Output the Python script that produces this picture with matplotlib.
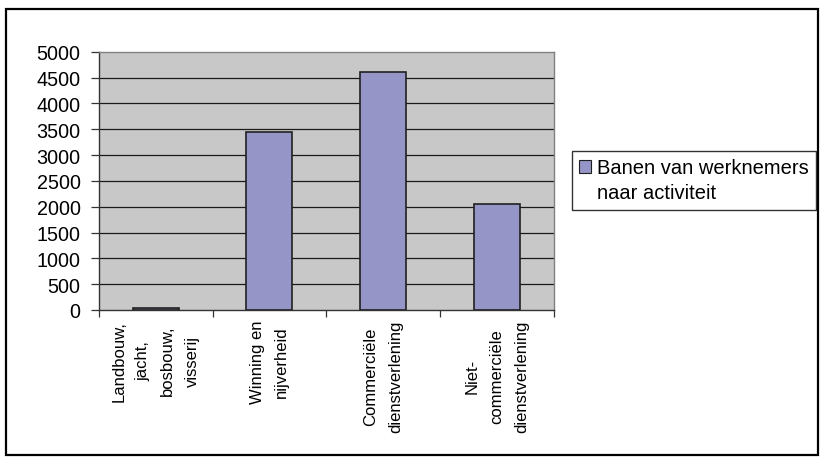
import matplotlib
matplotlib.use("Agg")
import matplotlib.pyplot as plt
from matplotlib.patches import Rectangle, Patch
from matplotlib.legend_handler import HandlerPatch

categories = ["Landbouw,\njacht,\nbosbouw,\nvisserij",
              "Winning en\nnijverheid",
              "Commerciële\ndienstverlening",
              "Niet-\ncommerciële\ndienstverlening"]
values = [40, 3450, 4600, 2060]
series_name = "Banen van werknemers\nnaar activiteit"
yticks = [0, 500, 1000, 1500, 2000, 2500, 3000, 3500, 4000, 4500, 5000]

plt.rcParams['font.family'] = ['Liberation Sans', 'DejaVu Sans']
FS_Y = 14.2
FS_X = 12.0
FS_L = 14.5

W, H = 825, 464
fig = plt.figure(figsize=(W / 100, H / 100), dpi=100)
fig.patch.set_facecolor("white")

# outer frame
fig.patches.append(Rectangle((6 / W, 1 - 456 / H), (818 - 6) / W, (456 - 10) / H,
                             transform=fig.transFigure, fill=False,
                             edgecolor="black", linewidth=1.6))

left, right, top, bottom = 98.7, 554, 52.7, 311
ax = fig.add_axes([left / W, 1 - bottom / H, (right - left) / W, (bottom - top) / H])
ax.set_facecolor("#C8C8C8")

x = list(range(len(categories)))
ax.bar(x, values, width=0.405, color="#9595C8", edgecolor="#202020",
       linewidth=1.2, zorder=3, label=series_name)

ax.set_xlim(-0.5, len(categories) - 0.5)
ax.set_ylim(0, 5000)
ax.set_yticks(yticks)
ax.set_yticklabels([str(v) for v in yticks], fontsize=FS_Y)
for v in yticks[1:-1]:
    ax.axhline(v, color="#1a1a1a", linewidth=0.9, zorder=1)

ax.set_xticks([i - 0.5 for i in range(len(categories) + 1)])
ax.set_xticklabels([])
ax.set_xticks(x, minor=True)
ax.set_xticklabels(categories, minor=True, rotation=90, ha="center", va="top",
                   multialignment="center", fontsize=FS_X, linespacing=1.8)
ax.tick_params(axis="x", which="major", length=5, width=0.9, color="#333333", direction="out")
ax.tick_params(axis="x", which="minor", length=0, pad=7)
ax.tick_params(axis="y", length=6, width=0.9, color="#333333", pad=7)

for s in ["top", "right"]:
    ax.spines[s].set_color("#808080")
    ax.spines[s].set_linewidth(1.0)
for s in ["left", "bottom"]:
    ax.spines[s].set_color("#333333")
    ax.spines[s].set_linewidth(1.0)


def top_aligned_patch(legend, orig_handle, xdescent, ydescent, width, height, fontsize):
    side = 0.62 * fontsize
    return Rectangle((-xdescent, -ydescent + 0.72 * fontsize), side, side)


leg = fig.legend(handles=[Patch(facecolor="#9595C8", edgecolor="#202020", linewidth=0.8)],
                 labels=[series_name],
                 handler_map={Patch: HandlerPatch(patch_func=top_aligned_patch)},
                 loc="upper left", bbox_to_anchor=(571.7 / W, 1 - 151.7 / H),
                 frameon=True, fancybox=False, shadow=False, fontsize=FS_L,
                 handlelength=0.62, handleheight=0.62, handletextpad=0.3,
                 borderpad=0.35, borderaxespad=0, labelspacing=0.2)
leg.get_frame().set_edgecolor("black")
leg.get_frame().set_linewidth(1.0)
for t in leg.get_texts():
    t.set_linespacing(1.45)

fig.savefig("out.png", dpi=100)
